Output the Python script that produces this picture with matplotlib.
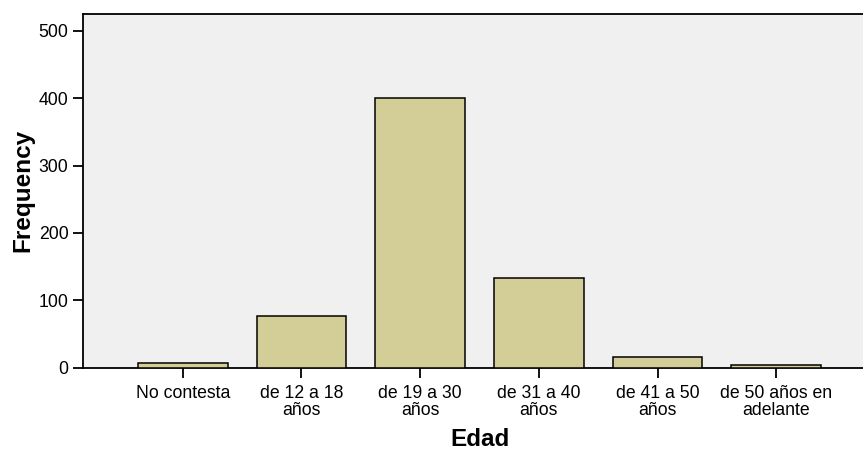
import matplotlib
matplotlib.use("Agg")
import matplotlib.pyplot as plt

categories = ["No contesta", "de 12 a 18\naños", "de 19 a 30\naños",
              "de 31 a 40\naños", "de 41 a 50\naños", "de 50 años en\nadelante"]
frequency = [7, 76, 401, 133, 16, 3]
yticks = [0, 100, 200, 300, 400, 500]

plt.rcParams['font.family'] = ['Liberation Sans', 'DejaVu Sans']

fig = plt.figure(figsize=(8.63, 4.51), dpi=100)
ax = fig.add_axes([83/863, (451-367.5)/451, (863-83)/863, (367.5-13.5)/451])
ax.set_facecolor('#f0f0f0')

x = list(range(len(categories)))
ax.bar(x, frequency, width=0.756, color='#d3ce97', edgecolor='black', linewidth=1.1, zorder=3)

ax.set_xlim(-0.84, 5.73)
ax.set_ylim(0, 526)
ax.set_yticks(yticks)
ax.set_yticklabels([str(v) for v in yticks])
ax.set_xticks(x)
ax.set_xticklabels(categories, linespacing=1.0)

ax.tick_params(axis='both', direction='out', length=7.5, width=1.3, labelsize=12.7, color='black')
ax.tick_params(axis='y', pad=3)
ax.tick_params(axis='x', pad=5)

for s in ['left', 'bottom', 'top']:
    ax.spines[s].set_linewidth(1.3)
    ax.spines[s].set_color('black')
ax.spines['right'].set_visible(False)

fig.text(23/863, 1 - 190.5/451, 'Frequency', rotation=90, ha='center', va='center',
         fontsize=17.5, fontweight='bold')
fig.text(480/863, 1 - 440/451, 'Edad', ha='center', va='center',
         fontsize=17.5, fontweight='bold')

fig.savefig('out.png', dpi=100)
